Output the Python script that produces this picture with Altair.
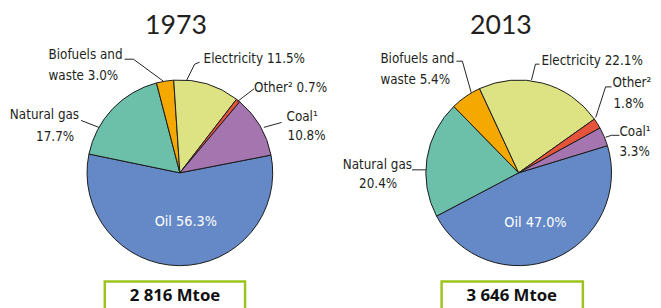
import altair as alt
import pandas as pd
import math

# ---- data ----
categories = ["Oil", "Natural gas", "Biofuels and waste", "Electricity", "Other", "Coal"]
share_1973 = [56.3, 17.7, 3.0, 11.5, 0.7, 10.8]
share_2013 = [47.0, 20.4, 5.4, 22.1, 1.8, 3.3]
years = ["1973", "2013"]
totals = ["2 816 Mtoe", "3 646 Mtoe"]

colors = ["#6489c6", "#6cbfa8", "#f5a800", "#dde283", "#e5533b", "#a475ae"]

# ---- layout (pixel positions inside the chart) ----
W, H = 653, 300
centers = [(174, 165), (517, 165)]
R = 94
start_deg = [79, 73]
LABEL_FONT = "'DejaVu Sans Condensed', 'Liberation Sans Narrow', 'Roboto Condensed', Roboto, sans-serif"
LABEL_SIZE = 13.5

def pie(values, idx):
    df = pd.DataFrame({"category": categories, "value": values, "order": list(range(len(categories)))})
    s = math.radians(start_deg[idx])
    return alt.Chart(df).mark_arc(radius=R, stroke="#1a1a1a", strokeWidth=1).encode(
        theta=alt.Theta("value:Q", stack=True,
                        scale=alt.Scale(domain=[0, 100], range=[s, s + 2 * math.pi])),
        color=alt.Color("category:N", scale=alt.Scale(domain=categories, range=colors), legend=None),
        order=alt.Order("order:Q"),
        x=alt.value(centers[idx][0]),
        y=alt.value(centers[idx][1]),
    )

xs = alt.Scale(domain=[0, W], range=[0, W])
ys = alt.Scale(domain=[0, H], range=[0, H])

def pct(v):
    return f"{v:.1f}%"

a, b = share_1973, share_2013
labels = pd.DataFrame([
    # 1973
    ("Biofuels and", 41, 46, "left"),
    (f"waste {pct(a[2])}", 41, 67, "left"),
    (f"Electricity {pct(a[3])}", 198, 50, "left"),
    (f"Other\u00b2 {pct(a[4])}", 249, 79, "left"),
    ("Coal\u00b9", 282, 109, "left"),
    (pct(a[5]), 283, 128, "left"),
    ("Natural gas", 72, 107, "right"),
    (pct(a[1]), 67, 129, "right"),
    # 2013
    ("Biofuels and", 377, 50, "left"),
    (f"waste {pct(b[2])}", 377, 71, "left"),
    (f"Electricity {pct(b[3])}", 540, 52, "left"),
    ("Other\u00b2", 612, 74, "left"),
    (pct(b[4]), 613, 95, "left"),
    ("Coal\u00b9", 619, 124, "left"),
    (pct(b[5]), 619, 144, "left"),
    ("Natural gas", 409, 157, "right"),
    (pct(b[1]), 394, 176, "right"),
], columns=["text", "x", "y", "align"])

def text_layer(df, align):
    return alt.Chart(df[df["align"] == align]).mark_text(
        align=align, baseline="middle", font=LABEL_FONT, fontSize=LABEL_SIZE, color="#231f20"
    ).encode(x=alt.X("x:Q", scale=xs, axis=None), y=alt.Y("y:Q", scale=ys, axis=None), text="text:N")

oil_labels = pd.DataFrame({
    "text": [f"Oil {pct(a[0])}", f"Oil {pct(b[0])}"],
    "x": [180, 534], "y": [215, 216],
})
oil_layer = alt.Chart(oil_labels).mark_text(
    align="center", baseline="middle", font=LABEL_FONT, fontSize=14.5, color="white"
).encode(x=alt.X("x:Q", scale=xs, axis=None), y=alt.Y("y:Q", scale=ys, axis=None), text="text:N")

titles = pd.DataFrame({"text": years, "x": [170, 499], "y": [16, 16]})
title_layer = alt.Chart(titles).mark_text(
    align="center", baseline="middle", font="Lato", fontSize=27, fontWeight="normal", color="#231f20"
).encode(x=alt.X("x:Q", scale=xs, axis=None), y=alt.Y("y:Q", scale=ys, axis=None), text="text:N")

boxes = pd.DataFrame({"x": [98, 439], "x2": [240, 582], "y": [275, 275], "y2": [310, 310]})
box_layer = alt.Chart(boxes).mark_rect(fill="white", stroke="#9dc31d", strokeWidth=2.5).encode(
    x=alt.X("x:Q", scale=xs, axis=None), x2="x2:Q",
    y=alt.Y("y:Q", scale=ys, axis=None), y2="y2:Q")

tot = pd.DataFrame({"text": totals, "x": [169, 510], "y": [290, 290]})
tot_layer = alt.Chart(tot).mark_text(
    align="center", baseline="middle", font="Open Sans", fontSize=17, fontWeight="bold", color="#111111"
).encode(x=alt.X("x:Q", scale=xs, axis=None), y=alt.Y("y:Q", scale=ys, axis=None), text="text:N")

leaders = pd.DataFrame([
    (0, 0, 118, 50), (0, 1, 127, 50), (0, 2, 157, 72),
    (1, 0, 194, 53), (1, 1, 189, 55), (1, 2, 181, 71),
    (2, 0, 249, 80), (2, 1, 232, 93),
    (3, 0, 277, 114), (3, 1, 259, 119),
    (4, 0, 74, 112), (4, 1, 92, 119),
    (5, 0, 454, 52), (5, 1, 460, 52), (5, 2, 469, 84),
    (6, 0, 538, 55), (6, 1, 534, 55), (6, 2, 530, 71),
    (7, 0, 611, 78), (7, 1, 605, 78), (7, 2, 595, 109),
    (8, 0, 619, 127), (8, 1, 611, 127), (8, 2, 605, 129),
    (9, 0, 409, 162), (9, 1, 423, 162),
], columns=["g", "k", "x", "y"])
leader_layer = alt.Chart(leaders).mark_line(color="#231f20", strokeWidth=1).encode(
    x=alt.X("x:Q", scale=xs, axis=None), y=alt.Y("y:Q", scale=ys, axis=None),
    detail="g:N", order="k:Q")

chart = alt.layer(
    pie(share_1973, 0), pie(share_2013, 1),
    leader_layer, text_layer(labels, "left"), text_layer(labels, "right"),
    oil_layer, title_layer, box_layer, tot_layer,
).resolve_scale(theta="independent").properties(
    width=W, height=H, padding=0, autosize=alt.AutoSizeParams(type="none")
).configure_view(stroke=None)

chart.save("out.html", embed_options={"renderer": "svg", "actions": False})
